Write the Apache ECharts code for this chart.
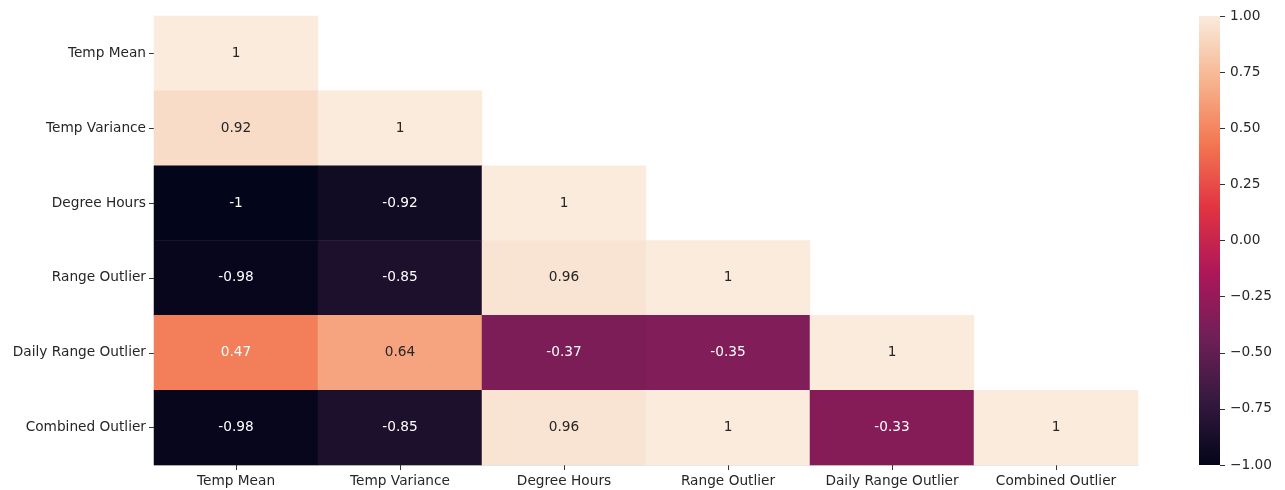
<!DOCTYPE html>
<html>
<head>
<meta charset="utf-8">
<script src="https://cdn.jsdelivr.net/npm/echarts@6/dist/echarts.min.js"></script>
<style>html,body{margin:0;padding:0;background:#fff;}#c{width:1285px;height:490px;}</style>
</head>
<body>
<div id="c"></div>
<script>
var categories = ['Temp Mean', 'Temp Variance', 'Degree Hours', 'Range Outlier', 'Daily Range Outlier', 'Combined Outlier'];
// lower triangle (incl. diagonal), row by row
var row0 = [1];
var row1 = [0.92, 1];
var row2 = [-1, -0.92, 1];
var row3 = [-0.98, -0.85, 0.96, 1];
var row4 = [0.47, 0.64, -0.37, -0.35, 1];
var row5 = [-0.98, -0.85, 0.96, 1, -0.33, 1];
var rows = [row0, row1, row2, row3, row4, row5];
var colorbarTicks = [-1, -0.75, -0.5, -0.25, 0, 0.25, 0.5, 0.75, 1];
var rocket = ['#03051a', '#35193e', '#701f57', '#ad1759', '#e13342', '#f37651', '#f6b48f', '#faebdd'];

var data = [];
rows.forEach(function (r, yi) {
  r.forEach(function (v, xi) {
    data.push({
      value: [xi, yi, v],
      label: { color: v > 0.55 ? '#262626' : '#ffffff' }
    });
  });
});

var font = 'DejaVu Sans';
var fs = 13.7;
var gradStops = rocket.map(function (c, i) {
  return { offset: 1 - i / (rocket.length - 1), color: c };
}).reverse();

var chart = echarts.init(document.getElementById('c'), null, { renderer: 'canvas' });
chart.setOption({
  animation: false,
  backgroundColor: '#fff',
  grid: [
    { left: 154, right: 147, top: 16, bottom: 25 },
    { left: 1199, width: 21, top: 16, height: 449 }
  ],
  graphic: [{
    type: 'rect', left: 1199, top: 16, silent: true, z: 0,
    shape: { width: 21, height: 449 },
    style: { fill: new echarts.graphic.LinearGradient(0, 0, 0, 1, gradStops) }
  }],
  xAxis: [
    {
      type: 'category', data: categories, gridIndex: 0,
      axisLine: { show: true, lineStyle: { color: '#e4e4e4', width: 1 } },
      axisTick: { show: true, alignWithLabel: true, length: 5, lineStyle: { color: '#333' } },
      axisLabel: { color: '#262626', fontFamily: font, fontSize: fs, margin: 9, interval: 0 },
      splitLine: { show: false }
    },
    { type: 'category', data: [''], gridIndex: 1, show: false }
  ],
  yAxis: [
    {
      type: 'category', data: categories, gridIndex: 0, inverse: true,
      axisLine: { show: true, lineStyle: { color: '#e4e4e4', width: 1 } },
      axisTick: { show: true, alignWithLabel: true, length: 5, lineStyle: { color: '#333' } },
      axisLabel: { color: '#262626', fontFamily: font, fontSize: fs, margin: 8, interval: 0 },
      splitLine: { show: false }
    },
    {
      type: 'value', gridIndex: 1, min: -1, max: 1, interval: 0.25, position: 'right',
      axisLine: { show: false, onZero: false },
      axisTick: { show: true, inside: false, length: 5, lineStyle: { color: '#333' } },
      axisLabel: {
        color: '#262626', fontFamily: font, fontSize: fs, margin: 10,
        formatter: function (v) { return (v < 0 ? '\u2212' : '') + Math.abs(v).toFixed(2); }
      },
      splitLine: { show: false }
    }
  ],
  visualMap: {
    show: false, type: 'continuous', min: -1, max: 1, seriesIndex: 0, dimension: 2,
    inRange: { color: rocket }
  },
  series: [
    {
      type: 'heatmap', xAxisIndex: 0, yAxisIndex: 0, data: data,
      label: {
        show: true, fontFamily: font, fontSize: fs,
        formatter: function (p) { return String(p.value[2]); }
      },
      itemStyle: { borderWidth: 0 }
    },
    { type: 'line', xAxisIndex: 1, yAxisIndex: 1, data: [], silent: true }
  ]
});
</script>
</body>
</html>
